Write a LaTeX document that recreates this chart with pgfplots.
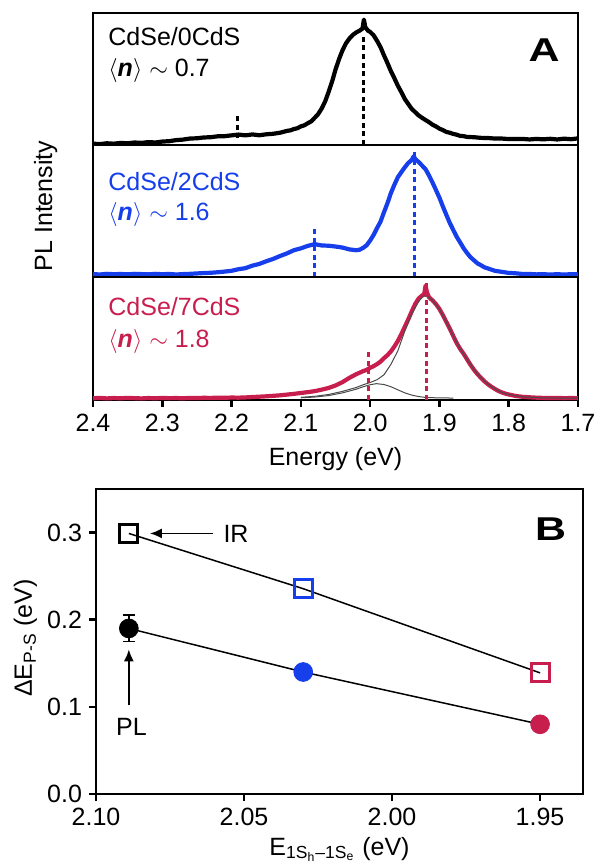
\documentclass[border=0pt]{standalone}
\usepackage{fontspec}
\setmainfont{Liberation Sans}
\usepackage{graphicx}
\usepackage{pgfplots}
\usepackage{pgfplotstable}
\pgfplotsset{compat=1.18}
\usetikzlibrary{arrows.meta}
\definecolor{cblue}{RGB}{22,62,235}
\definecolor{cpink}{RGB}{200,30,78}
\definecolor{cgray}{RGB}{75,75,75}

\pgfplotstableread{
E I
2.40 0.010
2.39 0.007
2.38 0.013
2.37 0.010
2.36 0.016
2.35 0.013
2.34 0.019
2.33 0.016
2.32 0.022
2.31 0.019
2.30 0.026
2.29 0.029
2.28 0.037
2.27 0.041
2.26 0.049
2.25 0.051
2.24 0.057
2.23 0.059
2.22 0.066
2.21 0.067
2.20 0.073
2.19 0.079
2.18 0.073
2.17 0.080
2.16 0.074
2.15 0.081
2.14 0.085
2.13 0.093
2.12 0.107
2.115 0.111
2.11 0.121
2.105 0.127
2.10 0.141
2.095 0.149
2.09 0.165
2.085 0.179
2.08 0.206
2.075 0.234
2.07 0.276
2.065 0.329
2.06 0.401
2.055 0.479
2.05 0.571
2.045 0.649
2.04 0.716
2.035 0.769
2.03 0.806
2.025 0.834
2.02 0.853
2.015 0.867
2.011 0.882
2.009 0.950
2.007 0.893
2.003 0.866
2.00 0.857
1.995 0.831
1.99 0.789
1.985 0.741
1.98 0.679
1.975 0.621
1.97 0.559
1.965 0.506
1.96 0.449
1.955 0.401
1.95 0.349
1.945 0.311
1.94 0.274
1.935 0.249
1.93 0.224
1.925 0.206
1.92 0.189
1.915 0.173
1.91 0.154
1.905 0.141
1.90 0.124
1.895 0.113
1.89 0.099
1.885 0.093
1.88 0.084
1.875 0.078
1.87 0.069
1.865 0.067
1.86 0.061
1.85 0.059
1.84 0.054
1.83 0.053
1.82 0.049
1.81 0.049
1.80 0.045
1.79 0.045
1.78 0.046
1.77 0.042
1.76 0.046
1.75 0.043
1.74 0.047
1.73 0.042
1.72 0.048
1.71 0.044
1.70 0.050
}\tblack

\pgfplotstableread{
E I
2.40 0.022
2.39 0.019
2.38 0.024
2.37 0.021
2.36 0.023
2.35 0.020
2.34 0.024
2.33 0.022
2.32 0.020
2.31 0.024
2.30 0.021
2.29 0.023
2.28 0.019
2.27 0.022
2.26 0.024
2.25 0.027
2.24 0.030
2.23 0.032
2.22 0.036
2.21 0.041
2.20 0.047
2.19 0.059
2.18 0.067
2.17 0.086
2.16 0.099
2.15 0.119
2.14 0.137
2.13 0.159
2.12 0.179
2.11 0.203
2.10 0.217
2.09 0.236
2.08 0.249
2.07 0.239
2.06 0.237
2.05 0.231
2.04 0.223
2.03 0.209
2.02 0.203
2.015 0.207
2.01 0.221
2.005 0.241
2.00 0.276
1.995 0.319
1.99 0.371
1.985 0.419
1.98 0.491
1.975 0.559
1.97 0.636
1.965 0.699
1.96 0.756
1.955 0.794
1.95 0.831
1.945 0.864
1.94 0.886
1.937 0.915
1.935 0.894
1.93 0.871
1.925 0.844
1.92 0.816
1.915 0.769
1.91 0.716
1.905 0.659
1.90 0.601
1.895 0.534
1.89 0.471
1.885 0.409
1.88 0.356
1.875 0.304
1.87 0.261
1.865 0.217
1.86 0.181
1.855 0.149
1.85 0.126
1.845 0.103
1.84 0.089
1.835 0.073
1.83 0.065
1.82 0.047
1.81 0.039
1.80 0.031
1.79 0.028
1.78 0.023
1.77 0.023
1.76 0.020
1.75 0.021
1.74 0.019
1.73 0.021
1.72 0.019
1.71 0.021
1.70 0.020
}\tblue

\pgfplotstableread{
E I
2.40 0.014
2.39 0.017
2.38 0.013
2.37 0.016
2.36 0.014
2.35 0.017
2.34 0.015
2.33 0.013
2.32 0.016
2.31 0.014
2.30 0.017
2.29 0.015
2.28 0.016
2.27 0.014
2.26 0.017
2.25 0.016
2.24 0.018
2.23 0.017
2.22 0.019
2.21 0.018
2.20 0.020
2.19 0.019
2.18 0.021
2.17 0.024
2.16 0.027
2.15 0.030
2.14 0.034
2.13 0.038
2.12 0.044
2.11 0.050
2.10 0.057
2.09 0.064
2.08 0.072
2.07 0.084
2.06 0.098
2.05 0.118
2.04 0.145
2.03 0.180
2.02 0.210
2.01 0.235
2.005 0.245
2.00 0.262
1.995 0.275
1.99 0.292
1.985 0.312
1.98 0.340
1.975 0.365
1.97 0.395
1.965 0.435
1.96 0.480
1.955 0.535
1.95 0.595
1.945 0.655
1.94 0.720
1.935 0.780
1.93 0.825
1.925 0.850
1.922 0.860
1.920 0.930
1.918 0.875
1.915 0.835
1.91 0.810
1.905 0.780
1.90 0.740
1.895 0.690
1.89 0.635
1.885 0.580
1.88 0.520
1.875 0.462
1.87 0.415
1.865 0.375
1.86 0.330
1.855 0.285
1.85 0.245
1.845 0.210
1.84 0.180
1.835 0.152
1.83 0.128
1.825 0.108
1.82 0.090
1.815 0.074
1.81 0.062
1.805 0.052
1.80 0.045
1.79 0.033
1.78 0.026
1.77 0.022
1.76 0.019
1.75 0.017
1.74 0.016
1.73 0.017
1.72 0.015
1.71 0.016
1.70 0.015
}\tpink

\pgfplotstableread{
E I
2.10 0.018
2.08 0.024
2.06 0.036
2.04 0.058
2.02 0.088
2.01 0.108
2.00 0.124
1.991 0.133
1.98 0.126
1.97 0.108
1.96 0.083
1.95 0.058
1.94 0.040
1.93 0.028
1.92 0.021
1.90 0.017
1.88 0.016
}\tcomp

\pgfplotstableread{
E I
2.10 0.022
2.08 0.030
2.06 0.045
2.04 0.070
2.02 0.102
2.01 0.124
2.00 0.142
1.99 0.165
1.98 0.205
1.97 0.290
1.96 0.400
1.955 0.480
1.95 0.560
1.94 0.700
1.93 0.800
1.925 0.835
1.92 0.850
1.915 0.835
1.91 0.810
1.90 0.740
1.89 0.635
1.88 0.520
1.87 0.415
1.86 0.330
1.85 0.245
1.84 0.180
1.83 0.128
1.82 0.090
1.81 0.062
1.80 0.045
1.78 0.026
1.75 0.017
1.70 0.015
}\tsum

\pgfplotsset{
  base/.style={scale only axis, axis line style={line width=1.3pt}, tick align=outside, tick pos=left,
    major tick length=3.5pt, tick style={black, line width=1.3pt},
    tick label style={font=\fontsize{12.5}{15}\selectfont},
    x dir=reverse},
  panelA/.style={base, width=242.5pt, xmin=1.7, xmax=2.4, ymin=0, ymax=1, ytick=\empty},
  spec/.style={line width=2.1pt, line join=round},
  vdash/.style={line width=1.5pt, dash pattern=on 2.5pt off 1.8pt},
}

\begin{document}
\begin{tikzpicture}[x=1pt,y=1pt,font=\fontsize{12.5}{15}\selectfont]
\useasboundingbox (0,0) rectangle (300,-434);

% Panel A, top (black)
\begin{axis}[panelA, at={(46.5pt,-6.5pt)}, anchor=north west, height=66pt, xtick=\empty]
\addplot[spec, black] table[x=E,y=I] {\tblack};
\addplot[vdash, black] coordinates {(2.192,0.05) (2.192,0.23)};
\addplot[vdash, black] coordinates {(2.009,0) (2.009,0.84)};
\end{axis}

% Panel A, middle (blue)
\begin{axis}[panelA, at={(46.5pt,-72.5pt)}, anchor=north west, height=66pt, xtick=\empty]
\addplot[spec, cblue] table[x=E,y=I] {\tblue};
\addplot[vdash, cblue] coordinates {(2.081,0) (2.081,0.37)};
\addplot[vdash, cblue] coordinates {(1.936,0) (1.936,0.97)};
\end{axis}

% Panel A, bottom (pink)
\begin{axis}[panelA, at={(46.5pt,-138.5pt)}, anchor=north west, height=61.5pt,
  xtick={1.7,1.8,1.9,2.0,2.1,2.2,2.3,2.4},
  xticklabels={1.7,1.8,1.9,2.0,2.1,2.2,2.3,2.4}]
\addplot[spec, cpink] table[x=E,y=I] {\tpink};
\addplot[line width=0.5pt, cgray] table[x=E,y=I] {\tcomp};
\addplot[line width=0.5pt, cgray] table[x=E,y=I] {\tsum};
\addplot[vdash, cpink] coordinates {(2.002,0) (2.002,0.40)};
\addplot[vdash, cpink] coordinates {(1.9185,0) (1.9185,0.965)};
\end{axis}

% Panel B
\begin{axis}[base, at={(48pt,-244.5pt)}, anchor=north west, width=243.5pt, height=152.5pt,
  xmin=1.9355, xmax=2.10, ymin=0, ymax=0.35,
  xtick={1.95,2.00,2.05,2.10}, xticklabels={1.95,2.00,2.05,2.10},
  ytick={0,0.1,0.2,0.3}, yticklabels={0.0,0.1,0.2,0.3}]
\addplot[black, line width=0.75pt] coordinates {(2.0889,0.299) (2.030,0.2356) (1.95,0.139)};
\addplot[black, line width=0.75pt] coordinates {(2.0889,0.19) (2.030,0.140) (1.95,0.080)};
\addplot[only marks, mark=square, mark size=4.5pt, mark options={draw=black, line width=1.5pt}] coordinates {(2.0889,0.299)};
\addplot[only marks, mark=square, mark size=4.5pt, mark options={draw=cblue, line width=1.5pt}] coordinates {(2.030,0.2356)};
\addplot[only marks, mark=square, mark size=4.5pt, mark options={draw=cpink, line width=1.5pt}] coordinates {(1.95,0.139)};
\addplot[only marks, mark=*, mark size=4.7pt, black,
  error bars/.cd, y dir=both, y explicit,
  error bar style={line width=0.9pt},
  error mark options={rotate=90, mark size=3pt, line width=0.9pt}]
  coordinates {(2.0889,0.19) +- (0,0.015)};
\addplot[only marks, mark=*, mark size=4.7pt, cblue] coordinates {(2.030,0.140)};
\addplot[only marks, mark=*, mark size=4.7pt, cpink] coordinates {(1.95,0.080)};
\draw[line width=0.9pt, -{Latex[length=6pt,width=5pt]}] (axis cs:2.0605,0.299) -- (axis cs:2.0818,0.299);
\node at (axis cs:2.0527,0.299) {IR};
\draw[line width=0.9pt, -{Latex[length=6pt,width=5pt]}] (axis cs:2.0889,0.102) -- (axis cs:2.0889,0.166);
\node at (axis cs:2.088,0.077) {PL};
\end{axis}

% Texts
\node[anchor=base west, inner sep=0] at (54,-22.5) {CdSe/0CdS};
\node[anchor=base west, inner sep=0] at (54,-38.3) {$\big\langle$\textbf{\textit{n}}$\big\rangle$ $\sim$ 0.7};
\node[anchor=base west, inner sep=0, text=cblue] at (54,-95) {CdSe/2CdS};
\node[anchor=base west, inner sep=0, text=cblue] at (54,-110) {$\big\langle$\textbf{\textit{n}}$\big\rangle$ $\sim$ 1.6};
\node[anchor=base west, inner sep=0, text=cpink] at (54,-157.5) {CdSe/7CdS};
\node[anchor=base west, inner sep=0, text=cpink] at (54,-173.5) {$\big\langle$\textbf{\textit{n}}$\big\rangle$ $\sim$ 1.8};
\node[anchor=base, inner sep=0] at (272,-30.8) {\fontsize{16.5}{18}\selectfont\bfseries\scalebox{1.3}[1]{A}};
\node[anchor=base, inner sep=0] at (275.25,-270) {\fontsize{16.5}{18}\selectfont\bfseries\scalebox{1.3}[1]{B}};
\node[anchor=base, inner sep=0, rotate=90] at (26,-103) {PL Intensity};
\node[anchor=base, inner sep=0] at (167.75,-232.5) {Energy (eV)};
\node[anchor=base, inner sep=0, rotate=90] at (16,-319) {ΔE\textsubscript{P-S} (eV)};
\node[anchor=base, inner sep=0] at (169.75,-427.5) {E\textsubscript{1S\textsubscript{h}–1S\textsubscript{e}} (eV)};
\end{tikzpicture}
\end{document}
